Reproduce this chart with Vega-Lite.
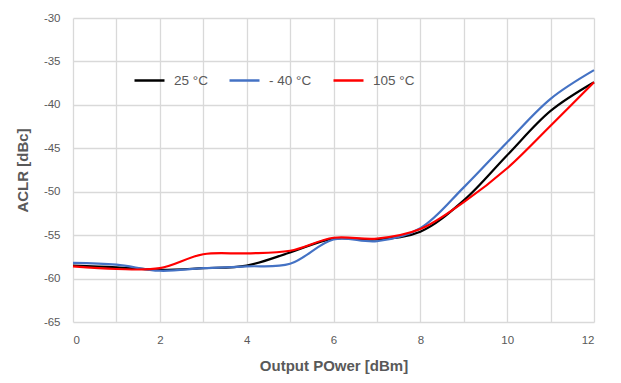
{
  "$schema": "https://vega.github.io/schema/vega-lite/v6.json",
  "width": 521,
  "height": 304,
  "autosize": {"type": "none"},
  "padding": {"left": 73, "top": 18, "right": 27, "bottom": 61},
  "background": "white",
  "config": {
    "view": {"stroke": null},
    "axis": {
      "gridColor": "#d9d9d9",
      "gridWidth": 1.3,
      "domain": false,
      "ticks": false,
      "labelColor": "#595959",
      "labelFontSize": 11.5,
      "labelFont": "Liberation Sans",
      "titleColor": "#595959",
      "titleFont": "Liberation Sans",
      "titleFontSize": 15,
      "titleFontWeight": "bold"
    }
  },
  "data": {
    "values": [
      {"p": 0, "s": "25 °C", "v": -58.5},
      {"p": 1, "s": "25 °C", "v": -58.7},
      {"p": 2, "s": "25 °C", "v": -59.0},
      {"p": 3, "s": "25 °C", "v": -58.8},
      {"p": 4, "s": "25 °C", "v": -58.5},
      {"p": 5, "s": "25 °C", "v": -57.0},
      {"p": 6, "s": "25 °C", "v": -55.4},
      {"p": 7, "s": "25 °C", "v": -55.5},
      {"p": 8, "s": "25 °C", "v": -54.6},
      {"p": 9, "s": "25 °C", "v": -51.0},
      {"p": 10, "s": "25 °C", "v": -45.8},
      {"p": 11, "s": "25 °C", "v": -40.7},
      {"p": 12, "s": "25 °C", "v": -37.4},
      {"p": 0, "s": "- 40 °C", "v": -58.2},
      {"p": 1, "s": "- 40 °C", "v": -58.4},
      {"p": 2, "s": "- 40 °C", "v": -59.1},
      {"p": 3, "s": "- 40 °C", "v": -58.8},
      {"p": 4, "s": "- 40 °C", "v": -58.6},
      {"p": 5, "s": "- 40 °C", "v": -58.3},
      {"p": 6, "s": "- 40 °C", "v": -55.5},
      {"p": 7, "s": "- 40 °C", "v": -55.7},
      {"p": 8, "s": "- 40 °C", "v": -54.2},
      {"p": 9, "s": "- 40 °C", "v": -49.5},
      {"p": 10, "s": "- 40 °C", "v": -44.3},
      {"p": 11, "s": "- 40 °C", "v": -39.3},
      {"p": 12, "s": "- 40 °C", "v": -36.0},
      {"p": 0, "s": "105 °C", "v": -58.6},
      {"p": 1, "s": "105 °C", "v": -58.9},
      {"p": 2, "s": "105 °C", "v": -58.8},
      {"p": 3, "s": "105 °C", "v": -57.2},
      {"p": 4, "s": "105 °C", "v": -57.1},
      {"p": 5, "s": "105 °C", "v": -56.8},
      {"p": 6, "s": "105 °C", "v": -55.3},
      {"p": 7, "s": "105 °C", "v": -55.4},
      {"p": 8, "s": "105 °C", "v": -54.3},
      {"p": 9, "s": "105 °C", "v": -51.2},
      {"p": 10, "s": "105 °C", "v": -47.3},
      {"p": 11, "s": "105 °C", "v": -42.4},
      {"p": 12, "s": "105 °C", "v": -37.4}
    ]
  },
  "mark": {"type": "line", "interpolate": "catmull-rom", "strokeWidth": 2.2},
  "encoding": {
    "x": {
      "field": "p",
      "type": "quantitative",
      "scale": {"domain": [0, 12], "nice": false},
      "axis": {
        "values": [0,1,2,3,4,5,6,7,8,9,10,11,12],
        "labelExpr": "datum.value % 2 == 0 ? '' + datum.value : ''",
        "labelPadding": 12,
        "title": "Output POwer [dBm]",
        "titlePadding": 13
      }
    },
    "y": {
      "field": "v",
      "type": "quantitative",
      "scale": {"domain": [-65, -30], "nice": false},
      "axis": {
        "values": [-65,-60,-55,-50,-45,-40,-35,-30],
        "labelExpr": "'' + datum.value",
        "labelPadding": 13,
        "title": "ACLR [dBc]",
        "titlePadding": 13
      }
    },
    "color": {
      "field": "s",
      "type": "nominal",
      "sort": ["25 °C", "- 40 °C", "105 °C"],
      "scale": {"domain": ["25 °C", "- 40 °C", "105 °C"], "range": ["#000000", "#4472c4", "#ff0000"]},
      "legend": {
        "title": null,
        "orient": "none",
        "legendX": 60,
        "legendY": 46,
        "direction": "horizontal",
        "symbolType": "stroke",
        "symbolSize": 900,
        "symbolStrokeWidth": 2.5,
        "labelFontSize": 13.5,
        "labelColor": "#595959",
        "labelFont": "Liberation Sans",
        "columnPadding": 16,
        "labelOffset": 8
      }
    }
  }
}
